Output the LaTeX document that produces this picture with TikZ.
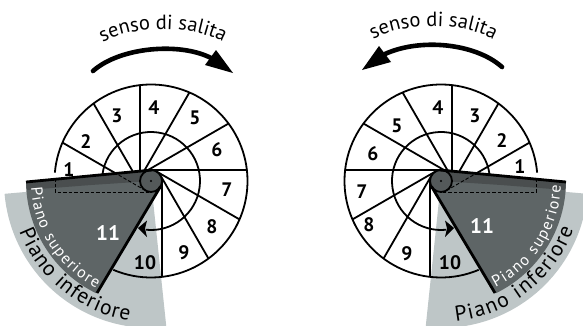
\documentclass[tikz,border=0pt]{standalone}
\usepackage{fontspec}
\setmainfont{PT Sans}
\usetikzlibrary{decorations.text,calc}
\definecolor{lightg}{HTML}{BEC6C7}
\definecolor{darkg}{HTML}{5E6566}
\definecolor{bandg}{HTML}{4A4E4F}
\definecolor{hubg}{HTML}{54595A}
\newcommand{\fsmall}{\fontsize{16}{16}\selectfont}
\newcommand{\fbig}{\fontsize{21.5}{21.5}\selectfont}
\newcommand{\fmid}{\fontsize{20.5}{20.5}\selectfont}
\tikzset{
  wall/.style={line width=1.8pt,black},
  thickwall/.style={line width=2.8pt,black},
  hiddenline/.style={line width=0.9pt,black,dash pattern=on 3.5pt off 2pt},
  num/.style={font=\fontsize{19.5}{19.5}\selectfont\bfseries,inner sep=0pt},
  bignum/.style={font=\fontsize{21}{21}\selectfont\bfseries,inner sep=0pt,text=white},
  bigarrow/.style={line width=4.6pt,black,line cap=round},
  curved/.style n args={2}{decoration={text along path,text align=center,text={|#1|#2}},decorate},
  curvedfit/.style n args={2}{decoration={text along path,text align=fit to path,text={|#1|#2}},decorate},
}
\newcommand{\StairAt}[2]{% center x, mirror sign
  \begin{scope}[shift={(#1,144)},xscale=#2]
    \def\Rout{96.5}\def\Rin{49}\def\rh{11}
    \fill[lightg] (185:147) arc[start angle=185,end angle=276,radius=147] -- (0,0) -- cycle;
    \draw[wall] (175:\Rout) arc[start angle=175,end angle=-113,radius=\Rout];
    \draw[wall] (172:\Rin) arc[start angle=172,end angle=-96,radius=\Rin];
    \foreach \a in {90,60,30,0,-30,-60,-90}{
      \draw[wall] (\a+90:\rh) -- ++(\a:95.87);
    }
    \draw[wall] ($(210:\rh)+(120:18)$) -- ($(210:\rh)+(120:95.87)$);
    \draw[wall] ($(240:\rh)+(150:34)$) -- ($(240:\rh)+(150:95.87)$);
    \fill[darkg] (-125,-1) arc[start angle=180.5,end angle=244,radius=125] -- (9.5,-5.5) -- (1,11) -- cycle;
    \fill[bandg] (-125,-1) -- (1,11) -- (1,0) -- (-60,-4) -- (-124,-9) -- cycle;
    \draw[hiddenline] (-95.9,3) -- (-95.9,-11) -- (0,-11);
    \draw[hiddenline] (240:\rh) -- ($(240:\rh)+(150:34)$);
    \fill[hubg] (0,0) circle[radius=\rh];
    \draw[wall] (0,0) circle[radius=\rh];
    \fill[black] (0,0) circle[radius=1.1pt];
    \draw[thickwall] (-125,-1) -- (1,11);
    \draw[thickwall] (9.5,-5.5) -- (-54,-112);
    \fill[black] (-13,-47) -- (-4,-39.5) -- (-6,-47.5) -- (-4,-56) -- cycle;
  \end{scope}}
\begin{document}
\begin{tikzpicture}[x=1pt,y=1pt]
\useasboundingbox (0,0) rectangle (583,325);
\clip (0,0) rectangle (583,325);
\StairAt{151}{1}
\StairAt{441}{-1}
% left numbers
\node[num] (la) at (69,155) {1};
\node[num] (lb) at (86,183) {2};
\node[num] (lc) at (117,209) {3};
\node[num] (ld) at (154,217) {4};
\node[num] (le) at (195,207) {5};
\node[num] (lf) at (217,175) {6};
\node[num] (lg) at (227,135) {7};
\node[num] (lh) at (212,98) {8};
\node[num] (li) at (184,72) {9};
\node[num] (lj) at (145,62) {10};
\node[bignum] (lk) at (108,92) {11};
% right numbers
\node[num] (ra) at (520,158) {1};
\node[num] (rb) at (502,184) {2};
\node[num] (rc) at (475,209) {3};
\node[num] (rd) at (438,217) {4};
\node[num] (re) at (397,199) {5};
\node[num] (rf) at (373,171) {6};
\node[num] (rg) at (362,133) {7};
\node[num] (rh) at (369,100) {8};
\node[num] (ri) at (407,71) {9};
\node[num] (rj) at (450,62) {10};
\node[bignum] (rk) at (482,99) {11};
% curved labels
\begin{scope}[shift={(151,144)}]
  \path[curvedfit={\color{white}\fsmall}{Piano superiore}] (183:120) arc[start angle=183,end angle=243,radius=120];
  \path[curvedfit={\fbig}{Piano inferiore}] (201:141) arc[start angle=201,end angle=261,radius=141];
\end{scope}
\begin{scope}[shift={(441,144)}]
  \path[curvedfit={\color{white}\fsmall}{Piano superiore}] (-63:120) arc[start angle=-63,end angle=-2,radius=120];
  \path[curvedfit={\fbig}{Piano inferiore}] (-84:141) arc[start angle=-84,end angle=-20,radius=141];
\end{scope}
\path[curved={\fmid}{senso di salita}] (98,280) .. controls (130,301) and (195,301) .. (228,280);
\path[curved={\fmid}{senso di salita}] (369,283) .. controls (400,304) and (466,304) .. (498,283);
% big arrows
\coordinate (lstart) at (93,254);
\coordinate (lend) at (211,267);
\coordinate (ltip) at (233,252);
\draw[bigarrow] (lstart) .. controls (120,278) and (180,283) .. (lend);
\fill[black] (ltip) -- (216,275) -- (205,260) -- cycle;
\coordinate (rstart) at (502,258);
\coordinate (rend) at (385,271);
\coordinate (rtip) at (362,255);
\draw[bigarrow] (rstart) .. controls (475,282) and (420,287) .. (rend);
\fill[black] (rtip) -- (379,279) -- (391,263) -- cycle;
\end{tikzpicture}
\end{document}
